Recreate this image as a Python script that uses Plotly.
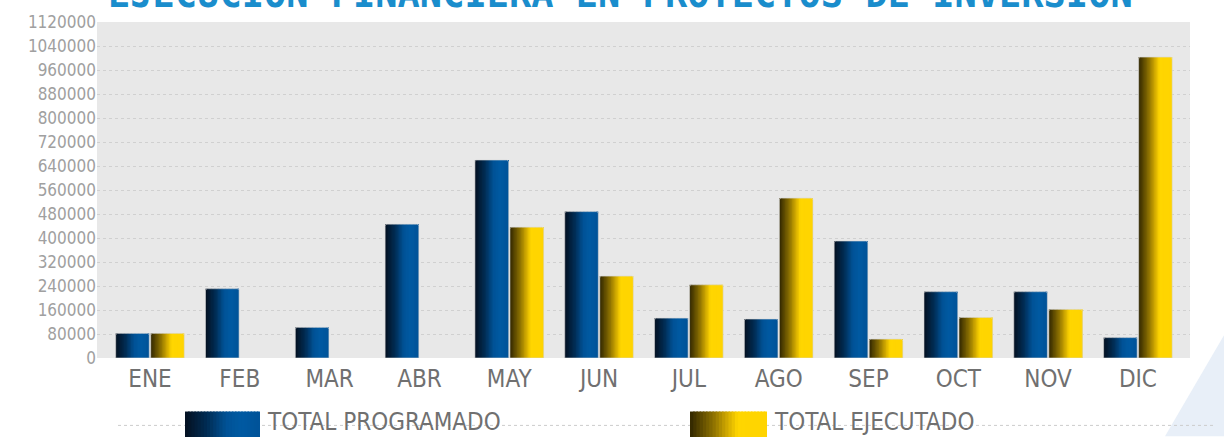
import plotly.graph_objects as go

# data
MESES = ['ENE', 'FEB', 'MAR', 'ABR', 'MAY', 'JUN', 'JUL', 'AGO', 'SEP', 'OCT', 'NOV', 'DIC']
PROGRAMADO = [82000, 231000, 102000, 446000, 660000, 488000, 133000, 130000, 390000, 221000, 221000, 68000]
EJECUTADO = [82000, None, None, None, 436000, 273000, 244000, 533000, 63000, 135000, 162000, 1003000]
Y_TICKS = list(range(0, 1120001, 80000))

TITLE = 'EJECUCIÓN FINANCIERA EN PROYECTOS DE INVERSIÓN'

# gradient stops (left -> right across a bar)
BLUE_STOPS = [(0.0, (4, 16, 32)), (0.3, (0, 45, 85)), (0.55, (0, 82, 150)), (0.75, (0, 90, 162)), (1.0, (0, 82, 152))]
GOLD_STOPS = [(0.0, (48, 38, 0)), (0.3, (140, 112, 0)), (0.5, (215, 175, 0)), (0.62, (255, 214, 0)), (1.0, (255, 212, 0))]

W, H = 1224, 437
L, R, T, B = 97, 34, 19, 79
PW, PH = W - L - R, H - T - B
N_STRIPS = 24
BAR_W = 0.374
FONT = 'DejaVu Sans Condensed, Roboto, sans-serif'


def grad(stops, t):
    for (t0, c0), (t1, c1) in zip(stops, stops[1:]):
        if t <= t1:
            f = (t - t0) / (t1 - t0) if t1 > t0 else 0
            c = [round(a + (b - a) * f) for a, b in zip(c0, c1)]
            return f'rgb({c[0]},{c[1]},{c[2]})'
    c = stops[-1][1]
    return f'rgb({c[0]},{c[1]},{c[2]})'


def px_x(px):
    return (px - L) / PW


def px_y(py):
    return (H - B - py) / PH


fig = go.Figure()

series = [(PROGRAMADO, BLUE_STOPS, -BAR_W - 0.008), (EJECUTADO, GOLD_STOPS, 0.008)]
for vals, stops, base in series:
    sw = BAR_W / N_STRIPS
    for k in range(N_STRIPS):
        # last strip must not spill past the bar edge
        wk = sw if k == N_STRIPS - 1 else sw * 1.6
        fig.add_trace(go.Bar(
            x=MESES, y=vals, width=wk, offset=base + k * sw,
            marker=dict(color=grad(stops, (k + 0.5) / N_STRIPS), line=dict(width=0)),
            showlegend=False, hoverinfo='skip'))
    # faint outline on top
    fig.add_trace(go.Bar(
        x=MESES, y=vals, width=BAR_W, offset=base,
        marker=dict(color='rgba(0,0,0,0)', line=dict(color='rgba(215,215,215,0.6)', width=1), cornerradius=2),
        showlegend=False, hoverinfo='x+y'))

# custom legend swatches
legend_items = [('TOTAL PROGRAMADO', BLUE_STOPS, 185, 260, 265), ('TOTAL EJECUTADO', GOLD_STOPS, 690, 767, 772)]
shapes = []
# decoration triangle bottom-right
shapes.append(dict(type='path', xref='paper', yref='paper', layer='below',
                   path=f'M {px_x(1165)} {px_y(437)} L {px_x(1224)} {px_y(335)} L {px_x(1224)} {px_y(437)} Z',
                   fillcolor='#e8eff8', line=dict(width=0)))
# dotted line behind legend
shapes.append(dict(type='line', xref='paper', yref='paper', layer='below',
                   x0=px_x(118), x1=px_x(1216), y0=px_y(426), y1=px_y(426),
                   line=dict(color='#cccccc', width=1, dash='dot')))
annotations = []
for label, stops, x0, x1, tx in legend_items:
    n = 24
    for k in range(n):
        a = x0 + (x1 - x0) * k / n
        b = x0 + (x1 - x0) * (k + 1) / n + (0 if k == n - 1 else 1.5)
        shapes.append(dict(type='rect', xref='paper', yref='paper',
                           x0=px_x(a), x1=px_x(b), y0=px_y(440), y1=px_y(412),
                           fillcolor=grad(stops, (k + 0.5) / n), line=dict(width=0)))
    annotations.append(dict(text=label, xref='paper', yref='paper', x=px_x(tx), y=px_y(423),
                            xanchor='left', yanchor='middle', showarrow=False,
                            font=dict(family=FONT, size=24, color='#707070')))

annotations.append(dict(text=f'<b>{TITLE}</b>', xref='paper', yref='paper', x=px_x(620), y=px_y(15),
                        xanchor='center', yanchor='bottom', showarrow=False,
                        font=dict(family='DejaVu Sans Mono, monospace', size=37, color='#1a8dcc')))

fig.update_layout(
    width=W, height=H, margin=dict(l=L, r=R, t=T, b=B),
    paper_bgcolor='white', plot_bgcolor='#e8e8e8',
    barmode='overlay', showlegend=False,
    shapes=shapes, annotations=annotations,
)
fig.update_xaxes(type='category', range=[-0.59, 11.58], showgrid=False, showline=False, ticks='',
                 ticklabelstandoff=4, tickfont=dict(family=FONT, size=24, color='#707070'))
fig.update_yaxes(range=[0, 1120000], tickvals=Y_TICKS, ticktext=[str(v) for v in Y_TICKS],
                 showgrid=True, gridcolor='#d0d0d0', griddash='dot', gridwidth=1, zeroline=False,
                 showline=False, ticks='', tickfont=dict(family=FONT, size=17, color='#a0a0a0'))

fig.write_html('out.html', config={'displayModeBar': False},
               post_script="document.body.style.margin='0';document.body.style.overflow='hidden';")
